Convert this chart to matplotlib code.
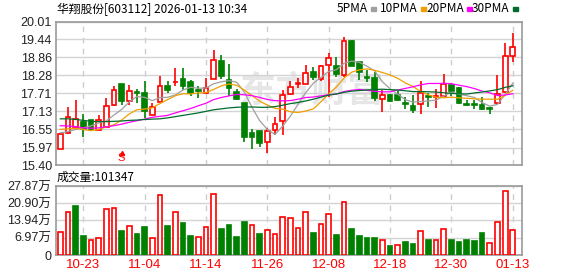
import matplotlib
matplotlib.use("Agg")
from matplotlib import pyplot as plt
import numpy as np
import pandas as pd

plt.rcParams['font.family'] = ['Liberation Sans', 'Noto Sans CJK SC', 'DejaVu Sans']

# daily candles, 2025-10-20 .. 2026-01-13
opens = [15.91, 16.42, 16.62, 16.79, 16.85, 16.53, 16.64, 17.32, 18.00, 17.45,
         17.75, 17.72, 17.02, 17.43, 17.94, 18.06, 18.16, 18.07, 17.80, 17.71,
         18.17, 18.73, 18.15, 17.75, 17.41, 16.44, 16.49, 16.14, 16.52, 16.81,
         17.68, 18.01, 18.02, 18.39, 18.17, 18.63, 18.58, 18.28, 19.39, 18.70,
         18.23, 18.20, 17.51, 17.65, 17.65, 17.40, 17.30, 17.35, 17.61, 17.59,
         17.63, 17.97, 17.88, 17.36, 17.35, 17.33, 17.24, 17.39, 17.74, 18.89]
highs = [16.45, 17.26, 17.49, 17.03, 16.85, 17.00, 17.55, 17.95, 18.00, 17.96,
         17.85, 18.09, 17.41, 18.26, 18.11, 18.51, 18.51, 18.12, 17.94, 18.19,
         19.09, 18.94, 18.64, 17.84, 17.41, 16.56, 16.51, 16.61, 16.96, 17.83,
         18.10, 18.19, 18.61, 18.56, 18.61, 18.99, 18.86, 19.52, 19.41, 18.70,
         18.45, 18.38, 17.81, 17.68, 17.79, 17.58, 17.65, 18.10, 17.73, 17.84,
         18.33, 17.98, 17.91, 17.50, 17.50, 17.58, 17.26, 18.29, 19.32, 19.64]
lows = [15.91, 16.40, 16.62, 16.32, 16.53, 16.53, 16.62, 17.31, 17.34, 17.32,
        17.41, 16.93, 17.00, 17.43, 17.71, 17.94, 17.83, 17.62, 17.55, 17.70,
        18.17, 18.17, 17.62, 17.49, 16.16, 15.91, 16.00, 15.81, 16.37, 16.38,
        17.66, 17.87, 18.02, 18.12, 18.11, 17.58, 18.22, 18.22, 18.59, 18.13,
        18.08, 17.46, 17.12, 17.44, 17.46, 17.20, 17.09, 17.05, 17.28, 17.25,
        17.62, 17.62, 17.35, 17.30, 17.22, 17.18, 17.03, 17.38, 17.73, 18.72]
closes = [16.40, 16.94, 16.87, 16.56, 16.56, 16.85, 17.29, 17.80, 17.45, 17.77,
          17.72, 17.15, 17.28, 17.93, 17.83, 18.08, 17.95, 17.71, 17.78, 17.87,
          18.76, 18.27, 17.89, 17.52, 16.30, 16.31, 16.13, 16.49, 16.71, 17.64,
          17.90, 18.04, 18.35, 18.24, 18.58, 18.83, 18.33, 19.37, 18.59, 18.38,
          18.21, 17.57, 17.64, 17.47, 17.49, 17.35, 17.18, 17.72, 17.59, 17.61,
          18.02, 17.79, 17.39, 17.34, 17.33, 17.21, 17.21, 17.67, 18.90, 19.18]
# volume in 万手
volumes = [9.16, 17.23, 19.79, 7.54, 5.92, 7.00, 18.45, 18.85, 9.69, 11.58,
           8.48, 11.31, 6.73, 24.24, 11.71, 17.23, 12.93, 7.67, 7.14, 11.17,
           24.64, 10.50, 12.12, 7.27, 13.33, 11.98, 8.48, 9.96, 8.35, 15.21,
           14.81, 10.77, 17.23, 9.02, 12.39, 16.56, 8.08, 21.27, 10.50, 7.67,
           6.87, 6.87, 5.92, 3.64, 3.90, 5.25, 4.44, 9.56, 6.06, 5.92,
           10.37, 6.06, 5.25, 6.06, 5.65, 8.89, 4.71, 13.20, 25.72, 10.13]

# moving-average values before enough history is on screen
ma5_head = [16.44, 16.48, 16.55, 16.60]
ma10_head = [16.55, 16.57, 16.58, 16.55, 16.51, 16.55, 16.63, 16.70, 16.85]
ma20_head = [16.67, 16.66, 16.64, 16.60, 16.59, 16.60, 16.63, 16.67, 16.72, 16.78,
             16.83, 16.88, 16.94, 16.97, 17.00, 17.08, 17.15, 17.22, 17.31]
ma30_head = [16.89, 16.89, 16.87, 16.84, 16.81, 16.80, 16.80, 16.81, 16.82, 16.84,
             16.85, 16.87, 16.88, 16.89, 16.92, 16.96, 17.00, 17.04, 17.08, 17.13,
             17.18, 17.21, 17.24, 17.26, 17.27, 17.27, 17.26, 17.26, 17.28]

price_ticks = [15.40, 15.97, 16.55, 17.13, 17.71, 18.28, 18.86, 19.44, 20.01]
vol_ticks = [0, 6.97, 13.94, 20.90, 27.87]
vol_labels = ['0', '6.97万', '13.94万', '20.90万', '27.87万']
date_pos = [3, 11, 19, 27, 35, 43, 51, 59]
date_labels = ['10-23', '11-04', '11-14', '11-26', '12-08', '12-18', '12-30', '01-13']
signal_pos = 8

RED = '#ff0000'
GREEN = '#008000'
GRID = '#d4d4d4'
FRAME = '#999999'
TXT = '#222222'

o = np.array(opens); h = np.array(highs); l = np.array(lows); c = np.array(closes)
x = np.arange(len(c))
s = pd.Series(c)

def ma(n, head):
    m = s.rolling(n).mean().to_numpy()
    m[:len(head)] = head
    return m

W, H = 578, 276
fig = plt.figure(figsize=(W / 100, H / 100), dpi=100)
ax = fig.add_axes([56 / W, 1 - 165.3 / H, 466 / W, (165.3 - 21.5) / H])
axv = fig.add_axes([56 / W, 1 - 255 / H, 466 / W, (255 - 186) / H])

for a in (ax, axv):
    a.set_xlim(-0.56, 60.2)
    for sp in a.spines.values():
        sp.set_color(FRAME)
        sp.set_linewidth(1.2)
    a.tick_params(length=0, colors=TXT, labelsize=9)
    for p in date_pos:
        a.axvline(p, color='#cccccc', lw=1, ls=(0, (4, 4)), zorder=0)

# price panel
ax.set_ylim(15.40, 20.01)
ax.set_yticks(price_ticks)
ax.set_yticklabels(['%.2f' % t for t in price_ticks])
ax.set_xticks([])
ax.yaxis.grid(True, color=GRID, lw=1)
ax.set_axisbelow(True)
ax.tick_params(axis='y', pad=3)

ax.text(0.55, 0.52, '东方财富', transform=ax.transAxes, ha='center', va='center',
        fontsize=26, color='#e6e6e6', style='italic', fontweight='bold',
        family=['Noto Sans CJK SC'], zorder=0.5)

up = c >= o
col = np.where(up, RED, GREEN)
ax.vlines(x, l, h, colors=col, lw=1.2, zorder=2)
body_lo = np.minimum(o, c)
body_h = np.maximum(np.abs(c - o), 0.015)
ax.bar(x, body_h, bottom=body_lo, width=0.62,
       color=np.where(up, 'white', GREEN), edgecolor=col, lw=1.2, zorder=3)

ax.plot(x, ma(5, ma5_head), color='#a0a0a0', lw=0.9, zorder=4)
ax.plot(x, ma(10, ma10_head), color='#f0a000', lw=0.9, zorder=4)
ax.plot(x, ma(20, ma20_head), color='#ff00ff', lw=0.9, zorder=4)
ax.plot(x, ma(30, ma30_head), color='#006b2d', lw=0.9, zorder=4)

ax.text(signal_pos, 15.46, 'S', color=RED, ha='center', va='bottom', fontsize=8, zorder=5)
ax.plot([signal_pos], [15.78], marker='^', color=RED, ms=3, zorder=5)

# volume panel
prev = np.concatenate([[o[0]], c[:-1]])
vup = c >= prev
vcol = np.where(vup, RED, GREEN)
axv.set_ylim(0, 27.87)
axv.set_yticks(vol_ticks)
axv.set_yticklabels(vol_labels)
axv.yaxis.grid(True, color=GRID, lw=1)
axv.set_axisbelow(True)
axv.bar(x, volumes, width=0.62, color=np.where(vup, 'white', GREEN),
        edgecolor=vcol, lw=1.2, zorder=3)
axv.set_xticks(date_pos)
axv.set_xticklabels(date_labels, color=RED, fontsize=9.5)
axv.tick_params(axis='x', pad=3)

# header texts
fig.text(57 / W, 1 - 9 / H, '华翔股份[603112] 2026-01-13 10:34', va='center',
         fontsize=8.5, color='black', family=['Noto Sans CJK SC'])
fig.text(57 / W, 1 - 177 / H, '成交量:101347', va='center',
         fontsize=8.5, color='black', family=['Noto Sans CJK SC'])

legend = [('5PMA', '#a0a0a0', 337), ('10PMA', '#f0a000', 380),
          ('20PMA', '#ff00ff', 426), ('30PMA', '#006b2d', 472)]
for name, colr, px in legend:
    t = fig.text(px / W, 1 - 9 / H, name, va='center', fontsize=8.5, color='black',
                 family=['Noto Sans CJK SC'])
    fig.canvas.draw()
    bb = t.get_window_extent()
    fig.patches.append(plt.Rectangle(((bb.x1 + 3) / W, 1 - 10.5 / H), 5 / W, 3.5 / H,
                                     transform=fig.transFigure, color=colr, figure=fig))

fig.savefig('out.png', dpi=100)
